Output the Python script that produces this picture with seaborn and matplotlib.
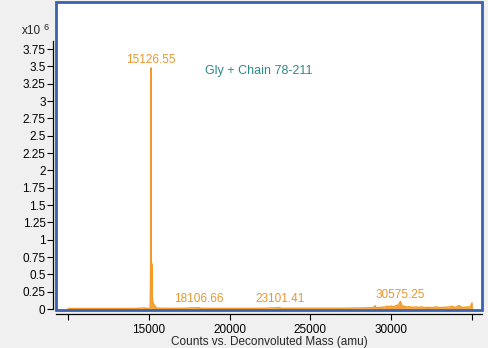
import matplotlib
matplotlib.use("Agg")
import matplotlib.pyplot as plt
from matplotlib.patches import Rectangle
import seaborn as sns
import pandas as pd

# Deconvoluted spectrum (mass in amu, counts in units of 1e6)
mass = [10000, 11000, 12000, 13000, 14000, 14600, 14700, 14750, 15000, 15080,
        15110, 15126.55, 15145, 15170, 15190, 15205, 15230, 15260, 15300, 15350,
        15400, 15450, 15550, 16000, 17000, 18106.66, 18200, 19000, 20000, 21000,
        22000, 23101.41, 23200, 24000, 25000, 26000, 27000, 28000, 28900, 29000,
        29050, 29400, 29600, 29800, 29900, 30000, 30100, 30300, 30450, 30575.25,
        30650, 30800, 30950, 31100, 31300, 31500, 31700, 31900, 32100, 32300,
        32500, 32800, 33000, 33300, 33600, 33800, 33900, 34200, 34400, 34700,
        34900, 35000, 35010]
counts = [0.008, 0.008, 0.008, 0.008, 0.008, 0.012, 0.02, 0.01, 0.01, 0.02,
          0.6, 3.48, 0.4, 0.3, 0.65, 0.2, 0.12, 0.08, 0.07, 0.05,
          0.04, 0.02, 0.012, 0.01, 0.01, 0.02, 0.01, 0.01, 0.01, 0.01,
          0.01, 0.02, 0.01, 0.012, 0.012, 0.012, 0.012, 0.015, 0.02, 0.05,
          0.02, 0.025, 0.03, 0.04, 0.03, 0.045, 0.03, 0.05, 0.06, 0.11,
          0.05, 0.04, 0.03, 0.035, 0.025, 0.03, 0.025, 0.03, 0.02, 0.025,
          0.02, 0.03, 0.02, 0.025, 0.03, 0.04, 0.02, 0.05, 0.02, 0.03,
          0.03, 0.09, 0.005]

# labelled peaks
peak_mass = [15126.55, 18106.66, 23101.41, 30575.25]
peak_label_y = [3.5, 0.06, 0.065, 0.11]

yticks = [0, 0.25, 0.5, 0.75, 1, 1.25, 1.5, 1.75, 2, 2.25, 2.5, 2.75, 3, 3.25, 3.5, 3.75]
xticks = [10000, 15000, 20000, 25000, 30000, 35000]
xtick_labels = ["", "15000", "20000", "25000", "30000", ""]

sns.set_style("white")
plt.rcParams["font.family"] = ["Liberation Sans", "DejaVu Sans"]

orange = "#F39A2A"
df = pd.DataFrame({"mass": mass, "counts": counts})

fig = plt.figure(figsize=(4.88, 3.48), dpi=100, facecolor="#F0F0F0")
ax = fig.add_axes([56 / 488, 1 - 310 / 348, 426 / 488, 308 / 348])
ax.set_facecolor("white")

sns.lineplot(data=df, x="mass", y="counts", color=orange, linewidth=1, ax=ax)
ax.fill_between(df["mass"], df["counts"], color=orange, alpha=0.9, linewidth=0)

for m, y in zip(peak_mass, peak_label_y):
    ax.text(m, y, f"{m:.2f}", color="#E8962F", fontsize=8.5, ha="center", va="bottom")
ax.text(21800, 3.43, "Gly + Chain 78-211", color="#2E8A88", fontsize=9, ha="center", va="center")

ax.set_xlim(9250, 35620)
ax.set_ylim(-0.014, 4.43)
ax.set_xticks(xticks)
ax.set_xticklabels(xtick_labels)
ax.set_yticks(yticks)
ax.set_yticklabels([f"{t:g}" for t in yticks])
ax.tick_params(axis="both", direction="out", length=4, width=0.8, color="black",
               labelsize=8.5, labelcolor="black", pad=1.5, left=True, bottom=True)
ax.tick_params(axis="x", pad=3)
ax.set_xlabel("Counts vs. Deconvoluted Mass (amu)", fontsize=8.5, labelpad=0)
ax.set_ylabel("")

for s in ["top", "right"]:
    ax.spines[s].set_visible(False)
ax.spines["left"].set_position(("outward", 2))
ax.spines["left"].set_bounds(0, 3.87)
ax.spines["bottom"].set_position(("outward", 3))
for s in ["left", "bottom"]:
    ax.spines[s].set_color("black")
    ax.spines[s].set_linewidth(0.9)

ax.add_patch(Rectangle((0, 0), 1, 1, transform=ax.transAxes, fill=False,
                       edgecolor="#3A62AE", linewidth=2, clip_on=False, zorder=5))

fig.text(22 / 488, 1 - 37 / 348, "x10", fontsize=8.5, ha="left", va="bottom")
fig.text(44 / 488, 1 - 32 / 348, "6", fontsize=6.5, ha="left", va="bottom")

fig.savefig("out.png", dpi=100, facecolor=fig.get_facecolor())
